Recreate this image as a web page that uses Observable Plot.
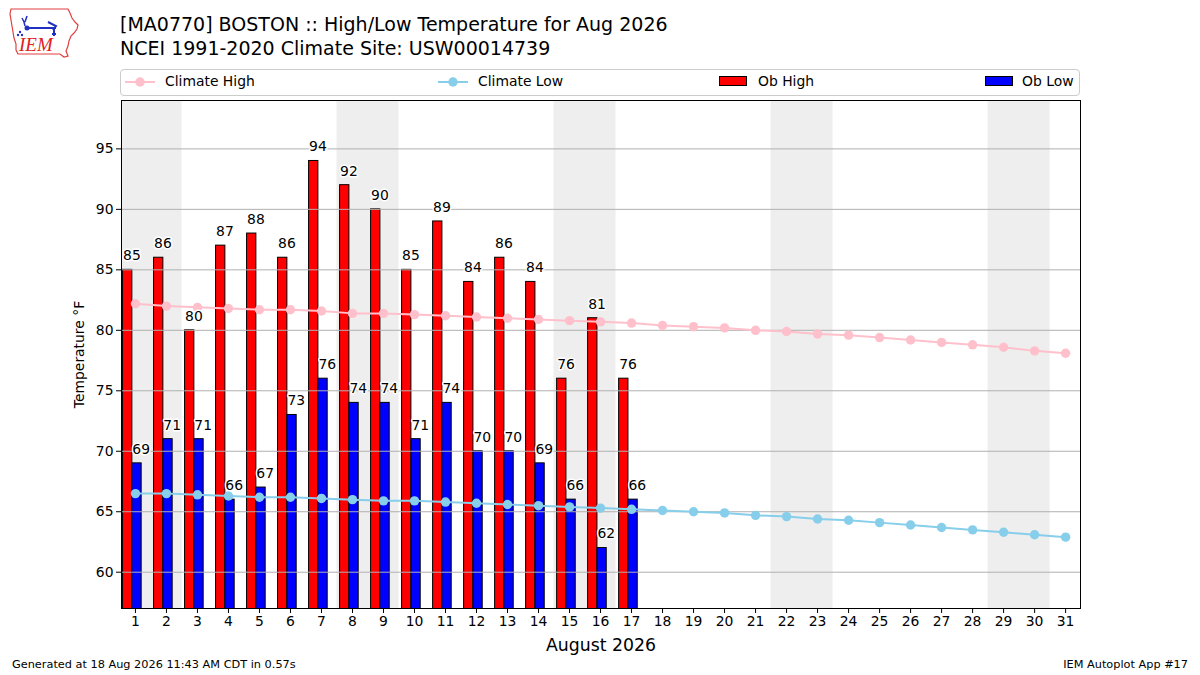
<!DOCTYPE html>
<html>
<head>
<meta charset="utf-8">
<script src="https://cdn.jsdelivr.net/npm/d3@7"></script>
<script src="https://cdn.jsdelivr.net/npm/@observablehq/plot@0.6"></script>
<style>
  html, body { margin: 0; padding: 0; background: #fff; }
  body { width: 1200px; height: 675px; position: relative; overflow: hidden; font-family: "DejaVu Sans", sans-serif; color: #000; }
  #chart { position: absolute; left: 0; top: 0; }
  .abs { position: absolute; white-space: nowrap; }
  #title { left: 120px; top: 12px; font-size: 19px; line-height: 24px; }
  #legend { left: 120px; top: 69px; width: 958px; height: 25px; border: 1px solid #cccccc; border-radius: 4px; background: rgba(255,255,255,0.8); }
  .lg { position: absolute; top: -1px; height: 25px; line-height: 25px; font-size: 13.9px; }
  .sw { position: absolute; top: 6px; width: 28px; height: 10px; border: 1px solid #000; box-sizing: border-box; }
  .foot { top: 658px; font-size: 11.3px; }
</style>
</head>
<body>
<div id="chart"></div>

<svg class="abs" style="left:8px;top:6px" width="74" height="54" viewBox="0 0 74 54">
  <path d="M3,3 L60,3 L62,7 L64,12 L67,16 L70,19 L69,23 L66,27 L63,30 L61,35 L60,40 L58,45 L60,50 L56,51 L52,48 L10,48 L8,44 L8,38 L6,32 L5,26 L4,20 L3,14 L2,8 Z" fill="#fff" stroke="#e04040" stroke-width="1.2"/>
  <path d="M14,12 L16,16 M19,10 L17,16 M16,16 L17,20" stroke="#2030c0" stroke-width="1.5" fill="none"/>
  <circle cx="19" cy="22" r="2.5" fill="#2030c0"/>
  <path d="M19,22 L48,22 M40,16 L48,20 L45,24 M46,22 L46,30 M44,28 L48,28" stroke="#2030c0" stroke-width="2" fill="none"/>
  <circle cx="12" cy="26" r="1.2" fill="#2030c0"/><circle cx="14" cy="29" r="1.2" fill="#2030c0"/><circle cx="10" cy="29" r="1.2" fill="#2030c0"/>
  <text x="11" y="45" font-family="Liberation Serif, serif" font-style="italic" font-size="19" fill="#e02020">IEM</text>
</svg>

<div id="title" class="abs">[MA0770] BOSTON :: High/Low Temperature for Aug 2026<br>NCEI 1991-2020 Climate Site: USW00014739</div>

<div id="legend" class="abs">
  <svg style="position:absolute;left:2px;top:1px" width="34" height="22"><line x1="2" y1="11" x2="32" y2="11" stroke="pink" stroke-width="2"/><circle cx="17" cy="11" r="4.7" fill="pink"/></svg>
  <div class="lg" style="left:44px">Climate High</div>
  <svg style="position:absolute;left:315px;top:1px" width="34" height="22"><line x1="2" y1="11" x2="32" y2="11" stroke="skyblue" stroke-width="2"/><circle cx="17" cy="11" r="4.7" fill="skyblue"/></svg>
  <div class="lg" style="left:357px">Climate Low</div>
  <div class="sw" style="left:598px;background:#ff0000"></div>
  <div class="lg" style="left:637px">Ob High</div>
  <div class="sw" style="left:864px;background:#0000ff"></div>
  <div class="lg" style="left:901px">Ob Low</div>
</div>

<div class="abs foot" style="left:12px">Generated at 18 Aug 2026 11:43 AM CDT in 0.57s</div>
<div class="abs foot" style="right:12px">IEM Autoplot App #17</div>

<script>
// ---- data ----
const days = d3.range(1, 32);
const obDays = d3.range(1, 18);
const obHigh = [85, 86, 80, 87, 88, 86, 94, 92, 90, 85, 89, 84, 86, 84, 76, 81, 76];
const obLow  = [69, 71, 71, 66, 67, 73, 76, 74, 74, 71, 74, 70, 70, 69, 66, 62, 66];
const climHigh = [82.2, 82.0, 81.9, 81.8, 81.7, 81.7, 81.6, 81.4, 81.4, 81.3, 81.2, 81.1, 81.0, 80.9, 80.8, 80.7,
                  80.6, 80.4, 80.3, 80.2, 80.0, 79.9, 79.7, 79.6, 79.4, 79.2, 79.0, 78.8, 78.6, 78.3, 78.1];
const climLow  = [66.5, 66.5, 66.4, 66.3, 66.2, 66.2, 66.1, 66.0, 65.9, 65.9, 65.8, 65.7, 65.6, 65.5, 65.4, 65.3,
                  65.2, 65.1, 65.0, 64.9, 64.7, 64.6, 64.4, 64.3, 64.1, 63.9, 63.7, 63.5, 63.3, 63.1, 62.9];
const weekendStarts = [1, 8, 15, 22, 29];   // Sat/Sun pairs
const yTicks = [60, 65, 70, 75, 80, 85, 90, 95];

const obs = obDays.map((d, i) => ({day: d, high: obHigh[i], low: obLow[i]}));
const clim = days.map((d, i) => ({day: d, high: climHigh[i], low: climLow[i]}));
const bands = weekendStarts.map(d => ({from: d - 0.5, to: d + 1.5}));

const halo = {stroke: "white", strokeWidth: 3, fill: "black", fontSize: 13.9, textAnchor: "start", dy: -14};

const chart = Plot.plot({
  width: 1200,
  height: 675,
  marginTop: 100,
  marginBottom: 67,
  marginLeft: 121,
  marginRight: 120,
  style: {fontFamily: "DejaVu Sans, sans-serif", fontSize: "13.9px", background: "white", color: "black"},
  x: {domain: [0.55, 31.48], ticks: days, tickFormat: d => String(d), tickSize: 5, tickPadding: 3,
      label: "August 2026", labelAnchor: "center", labelArrow: "none", labelOffset: 42},
  y: {domain: [57, 99], ticks: yTicks, tickSize: 5, tickPadding: 3,
      label: "Temperature °F", labelAnchor: "center", labelArrow: "none", labelOffset: 47},
  marks: [
    Plot.rect(bands, {x1: "from", x2: "to", fill: "#eeeeee", clip: true}),
    Plot.rect(obs, {x1: d => d.day - 0.4, x2: d => d.day - 0.1, y1: 0, y2: "high", fill: "#ff0000", stroke: "black", strokeWidth: 1, clip: true}),
    Plot.rect(obs, {x1: d => d.day - 0.1, x2: d => d.day + 0.2, y1: 0, y2: "low", fill: "#0000ff", stroke: "black", strokeWidth: 1, clip: true}),
    Plot.gridY(yTicks, {stroke: "#b0b0b0", strokeOpacity: 1, strokeWidth: 1}),
    Plot.line(clim, {x: "day", y: "high", stroke: "pink", strokeWidth: 2}),
    Plot.dot(clim, {x: "day", y: "high", fill: "pink", r: 4.7}),
    Plot.line(clim, {x: "day", y: "low", stroke: "skyblue", strokeWidth: 2}),
    Plot.dot(clim, {x: "day", y: "low", fill: "skyblue", r: 4.7}),
    Plot.text(obs, {x: d => d.day - 0.4, y: "high", text: d => String(d.high), ...halo}),
    Plot.text(obs, {x: d => d.day - 0.1, y: "low", text: d => String(d.low), ...halo}),
    Plot.frame({stroke: "black", strokeWidth: 1})
  ]
});
chart.querySelectorAll('[aria-label="x-axis label"] text').forEach(t => t.setAttribute("font-size", "17.3px"));
document.getElementById("chart").appendChild(chart);
</script>
</body>
</html>
